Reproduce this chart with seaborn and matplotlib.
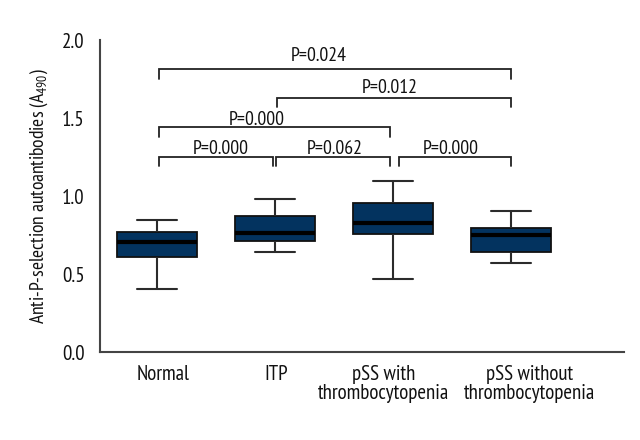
import numpy as np
import pandas as pd
import seaborn as sns
import matplotlib
matplotlib.use("Agg")
import matplotlib.pyplot as plt
from matplotlib import font_manager as fm

# ---- data (five-number summaries) ----
groups = ["Normal", "ITP", "pSS with\nthrombocytopenia", "pSS without\nthrombocytopenia"]
whisker_low = [0.404, 0.641, 0.468, 0.573]
q1 = [0.611, 0.709, 0.758, 0.641]
median = [0.703, 0.761, 0.829, 0.750]
q3 = [0.767, 0.874, 0.955, 0.793]
whisker_high = [0.846, 0.981, 1.094, 0.904]

# label positions (the category labels sit slightly off the box centres)
label_pos = [0.05, 1.01, 1.924, 3.16]

# significance comparisons
comp_left = [0.02, 1.02, 0.02, 0.02, 1.01, 2.05]
comp_right = [3.0, 3.0, 1.98, 0.98, 1.98, 3.0]
comp_height = [1.812, 1.630, 1.444, 1.252, 1.252, 1.252]
comp_drop = [1.748, 1.568, 1.376, 1.19, 1.19, 1.19]
comp_text = ["P=0.024", "P=0.012", "P=0.000", "P=0.000", "P=0.062", "P=0.000"]
text_x = [1.373, 1.972, 0.847, 0.542, 1.507, 2.489]
text_y = [1.867, 1.658, 1.455, 1.269, 1.269, 1.269]

yticks = [0.0, 0.5, 1.0, 1.5, 2.0]
ytick_labels = ["0.0", "0.5", "1.0", "1.5", "2.0"]

# ---- long table: 5 points per group give exactly these quartiles ----
rows = []
for g, a, b, c, d, e in zip(groups, whisker_low, q1, median, q3, whisker_high):
    for v in (a, b, c, d, e):
        rows.append({"group": g, "value": v})
df = pd.DataFrame(rows)

sns.set_style("white")
available = {f.name for f in fm.fontManager.ttflist}
prefs = ["PT Sans Narrow", "Fira Sans Condensed", "Roboto Condensed", "Open Sans Condensed",
         "Archivo Narrow", "Liberation Sans Narrow", "DejaVu Sans"]
main_font = next(p for p in prefs if p in available)
plt.rcParams["font.family"] = [main_font, "DejaVu Sans"]
plt.rcParams["mathtext.fontset"] = "custom"
plt.rcParams["mathtext.rm"] = main_font
plt.rcParams["mathtext.it"] = main_font

fig = plt.figure(figsize=(6.4, 4.4), dpi=100)
ax = fig.add_axes([100 / 640, 1 - 352 / 440, 524 / 640, 312 / 440])

box_color = "#03335f"
line_color = "#2b2b2b"
sns.boxplot(
    data=df, x="group", y="value", order=groups, ax=ax,
    width=0.68, whis=(0, 100), color=box_color, saturation=1,
    linecolor=line_color, linewidth=1.5, showfliers=False,
    boxprops=dict(facecolor=box_color, edgecolor="#111111", linewidth=1.3),
    medianprops=dict(color="black", linewidth=3),
    whiskerprops=dict(color=line_color, linewidth=1.5),
    capprops=dict(color=line_color, linewidth=1.5),
)

# significance brackets
for l, r, h, dr in zip(comp_left, comp_right, comp_height, comp_drop):
    ax.plot([l, l, r, r], [dr, h, h, dr], color="#222222", linewidth=1.3,
            solid_joinstyle="miter", clip_on=False)
for tx, ty, t in zip(text_x, text_y, comp_text):
    ax.text(tx, ty, t, ha="center", va="baseline", fontsize=14.2, color="#111111")

ax.set_xlim(-0.483, 3.96)
ax.set_ylim(0, 2.0)
ax.set_xticks(label_pos)
ax.set_xticklabels(groups, fontsize=15, color="#111111", linespacing=1.0)
ax.set_yticks(yticks)
ax.set_yticklabels(ytick_labels, fontsize=15, color="#111111")
ax.tick_params(axis="x", length=0, pad=9)
ax.tick_params(axis="y", direction="out", length=8, width=1.3, color="#444444", pad=3)

ax.set_xlabel("")
ax.set_ylabel(r"Anti-P-selection autoantibodies (A$_{490}$)", fontsize=14,
              color="#111111", labelpad=9)

for s in ["top", "right"]:
    ax.spines[s].set_visible(False)
for s in ["left", "bottom"]:
    ax.spines[s].set_color("#444444")
    ax.spines[s].set_linewidth(1.5)

fig.savefig("out.png", dpi=100)
